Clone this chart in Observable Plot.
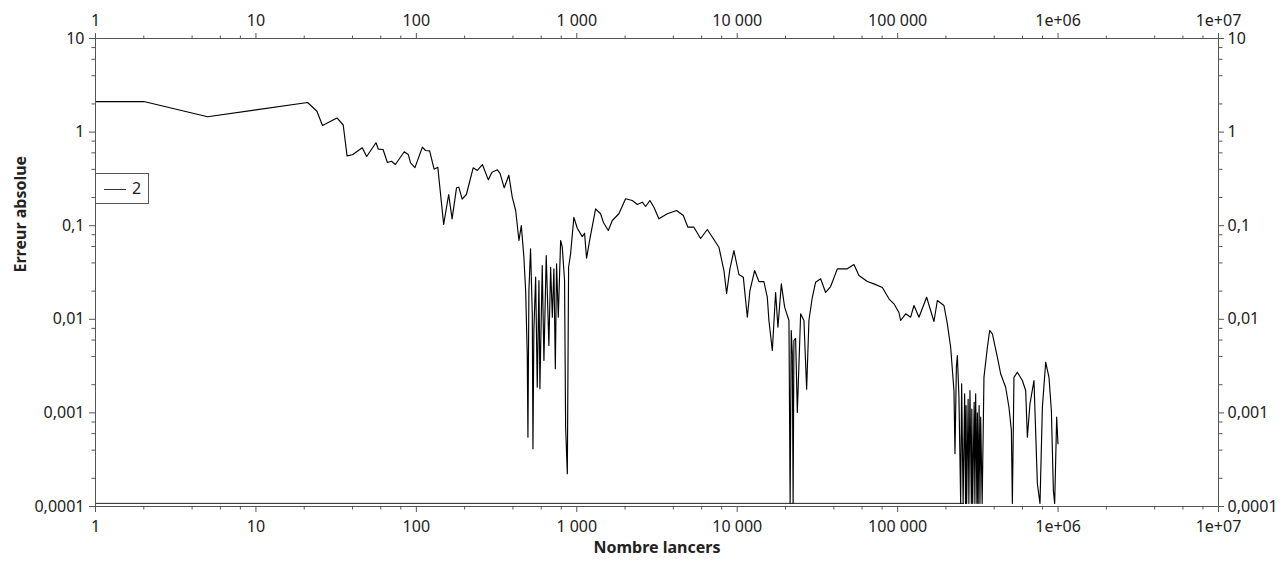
<!DOCTYPE html>
<html>
<head>
<meta charset="utf-8">
<script src="https://cdn.jsdelivr.net/npm/d3@7"></script>
<script src="https://cdn.jsdelivr.net/npm/@observablehq/plot@0.6"></script>
<style>
  html, body { margin: 0; padding: 0; background: #fff; }
  #wrap { position: relative; width: 1280px; height: 571px; font-family: "Noto Sans", sans-serif; }
  #legend { position: absolute; left: 95px; top: 173px; width: 54px; height: 31px; box-sizing: border-box;
            border: 1px solid #555; background: #fff; }
  #legend .sw { position: absolute; left: 8px; top: 15px; width: 22px; border-top: 1px solid #333; }
  #legend .lb { position: absolute; left: 36px; top: 3px; font-size: 16px; line-height: 22px; color: #222; }
</style>
</head>
<body>
<div id="wrap"><div id="legend"><span class="sw"></span><span class="lb"></span></div></div>
<script>
// ---- data ----
const seriesName = "2";
const xLabel = "Nombre lancers";
const yLabel = "Erreur absolue";

const xTicks = [1, 10, 100, 1000, 10000, 100000, 1e6, 1e7];
const xTickLabels = ["1", "10", "100", "1 000", "10 000", "100 000", "1e+06", "1e+07"];
const yTicks = [10, 1, 0.1, 0.01, 0.001, 0.0001];
const yTickLabels = ["10", "1", "0,1", "0,01", "0,001", "0,0001"];
const minorMult = [2, 4, 6, 8];

const Z = 0.000108; // zero-error level drawn at the bottom

const lancers = [
  1,2,5,21,24,26,32,35,37,40,
  46,49,56,58,62,66,70,74,84,89,
  92,98,109,114,121,129,136,148,153,159,
  167,178,184,193,205,226,240,258,281,296,
  320,332,353,377,396,416,436,451,468,480,
  491,496,503,515,528,533,540,554,567,581,
  589,609,624,645,670,687,704,720,735,748,
  767,793,812,839,852,873,889,915,959,1007,
  1082,1118,1151,1207,1310,1407,1463,1572,1665,1830,
  2014,2218,2384,2561,2685,2856,3025,3250,3666,4191,
  4613,4928,5370,5913,6510,7157,7690,8264,8589,9005,
  9537,10246,10914,11562,12002,12839,13654,14673,15405,15764,
  16553,17353,17939,18836,19748,21011,21372,21710,22053,22308,
  22566,23123,23695,24854,26054,27086,27990,29387,30823,33113,
  35567,38214,42082,48580,53410,57380,64730,71170,80290,88280,
  94820,101870,104400,112200,120500,126400,135800,151600,160600,168400,
  176800,194400,204100,214000,224400,227700,232300,235600,241100,247100,
  250600,256000,261600,265000,267000,269300,275000,278000,282300,288000,290000,
  293500,300000,303000,306400,312000,314000,317700,322000,326000,329300,336400,
  345200,362600,374700,389500,418400,438600,471300,494200,511500,518900,
  531000,557600,599000,628100,643600,668100,707600,743000,771300,798400,
  837100,877700,908300,934800,952400,980100,998600
];

const erreur = [
  2.12,2.12,1.457,2.07,1.672,1.176,1.415,1.191,0.558,0.572,
  0.680,0.548,0.769,0.657,0.652,0.473,0.488,0.451,0.616,0.576,
  0.468,0.417,0.690,0.636,0.631,0.402,0.422,0.103,0.1454,0.2154,
  0.1185,0.254,0.2578,0.1919,0.2154,0.4155,0.389,0.4505,0.309,0.373,
  0.3956,0.3638,0.254,0.3464,0.2016,0.1454,0.0695,0.1005,0.0461,0.0203,
  0.00431,0.00055,0.0203,0.0566,0.01145,0.000414,0.0076,0.0282,0.00188,0.026,
  0.00181,0.0376,0.00363,0.048,0.00525,0.036,0.01053,0.0346,0.00296,0.0392,
  0.01053,0.0695,0.0589,0.026,0.000702,0.000224,0.036,0.0501,0.1227,0.0939,
  0.0764,0.0831,0.0449,0.0724,0.1516,0.1341,0.109,0.0889,0.1137,0.1341,
  0.1938,0.1858,0.1685,0.1783,0.1604,0.1858,0.1576,0.1185,0.1341,0.1454,
  0.1285,0.0964,0.0964,0.073,0.0911,0.0712,0.0589,0.0332,0.01886,0.0346,
  0.0543,0.0301,0.0282,0.01053,0.0203,0.0332,0.0253,0.0253,0.0171,0.00971,
  0.00464,0.01934,0.00823,0.0239,0.01347,0.00971,Z,0.0076,0.00431,Z,
  0.00594,0.00624,0.00101,0.01145,0.00971,0.00179,0.00971,0.0172,0.0249,0.0271,
  0.01934,0.0224,0.0346,0.0346,0.0385,0.0294,0.0253,0.0239,0.0219,0.01656,
  0.01464,0.01182,0.00971,0.01145,0.01053,0.01404,0.01053,0.0172,0.01242,0.00947,
  0.01588,0.01404,0.00895,0.00503,0.001735,0.000366,0.00308,0.0041,0.00147,Z,
  0.002047,Z,0.0016,Z,0.0012,Z,0.0014,Z,0.001735,Z,0.0011,
  Z,0.0013,Z,0.0016,Z,0.001,Z,0.0012,Z,0.0009,Z,
  0.0024,0.00503,0.0076,0.0070,0.00394,0.00262,0.00188,0.00115,0.00065,Z,
  0.0024,0.00272,0.00222,0.001735,0.00055,0.00125,0.00222,0.000175,Z,0.00115,
  0.00348,0.0024,0.00106,0.000148,Z,0.0009,0.000468
];

// flat segment at the zero level
const zeroLineX = [1, 258000];
const zeroLineY = [Z, Z];

// ---- build ----
const data = lancers.map((x, i) => ({x, y: erreur[i]}));
const zeroLine = zeroLineX.map((x, i) => ({x, y: zeroLineY[i]}));

const xMinor = [];
for (let k = 0; k < 7; k++) for (const m of minorMult) xMinor.push(m * 10 ** k);
const yMinor = [];
for (let k = -4; k < 1; k++) for (const m of minorMult) yMinor.push(+(m * 10 ** k).toPrecision(3));

const fx = d => xTickLabels[xTicks.findIndex(t => Math.abs(t - d) < 1e-9 * t)];
const fy = d => yTickLabels[yTicks.findIndex(t => Math.abs(t - d) < 1e-9 * t)];

const axisCol = "#555";
const fs = 16;

const chart = Plot.plot({
  width: 1280,
  height: 571,
  marginLeft: 95,
  marginRight: 62,
  marginTop: 38,
  marginBottom: 65,
  style: {fontFamily: "'Noto Sans', sans-serif", fontSize: "16px", color: "#222", background: "#fff"},
  x: {type: "log", domain: [1, 1e7]},
  y: {type: "log", domain: [1e-4, 10]},
  marks: [
    Plot.line(zeroLine, {x: "x", y: "y", stroke: "#222", strokeWidth: 1}),
    Plot.line(data, {x: "x", y: "y", stroke: "#000", strokeWidth: 1.15, clip: true}),
    Plot.frame({stroke: axisCol}),
    Plot.axisX({anchor: "bottom", ticks: xTicks, tickFormat: fx, tickSize: 6, tickPadding: 8, label: null, stroke: axisCol, fontSize: fs}),
    Plot.axisX({anchor: "top", ticks: xTicks, tickFormat: fx, tickSize: 6, tickPadding: 7, label: null, stroke: axisCol, fontSize: fs}),
    Plot.axisX({anchor: "bottom", ticks: xMinor, tickSize: 3.5, text: null, label: null, stroke: axisCol}),
    Plot.axisX({anchor: "top", ticks: xMinor, tickSize: 3.5, text: null, label: null, stroke: axisCol}),
    Plot.axisY({anchor: "left", ticks: yTicks, tickFormat: fy, tickSize: 6, tickPadding: 5, label: null, stroke: axisCol, fontSize: fs}),
    Plot.axisY({anchor: "right", ticks: yTicks, tickFormat: fy, tickSize: 5, tickPadding: 4, label: null, stroke: axisCol, fontSize: fs}),
    Plot.axisY({anchor: "left", ticks: yMinor, tickSize: 3.5, text: null, label: null, stroke: axisCol}),
    Plot.axisY({anchor: "right", ticks: yMinor, tickSize: 3.5, text: null, label: null, stroke: axisCol}),
    Plot.text([xLabel], {text: d => d, frameAnchor: "bottom", dy: 46, fontWeight: "bold", fontSize: 16, fill: "#222"}),
    Plot.text([yLabel], {text: d => d, frameAnchor: "left", dx: -75, rotate: -90, fontWeight: "bold", fontSize: 16, fill: "#222"})
  ]
});

const wrap = document.getElementById("wrap");
wrap.insertBefore(chart, wrap.firstChild);
document.querySelector("#legend .lb").textContent = seriesName;
</script>
</body>
</html>
